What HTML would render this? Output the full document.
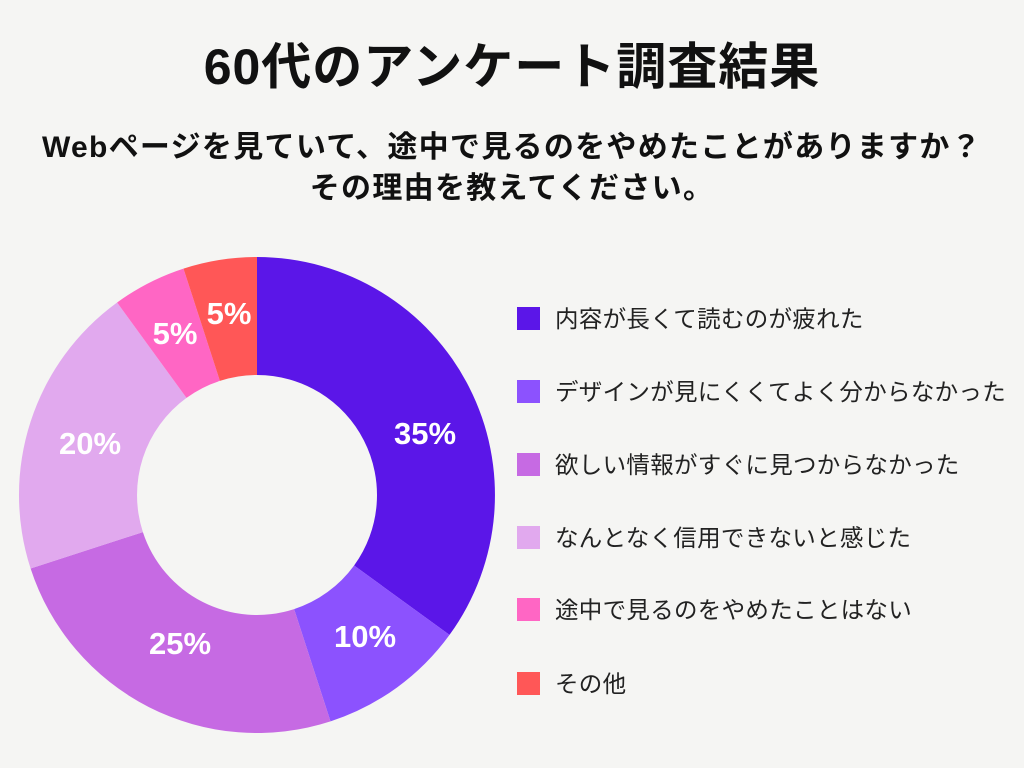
<!DOCTYPE html>
<html><head><meta charset="utf-8"><style>
body{margin:0;width:1024px;height:768px;background:#f5f5f3;overflow:hidden;font-family:"Liberation Sans","Noto Sans CJK JP",sans-serif;color:#111}
.t{position:absolute;left:0;width:1024px;text-align:center;font-weight:bold;white-space:nowrap}
</style></head><body>
<div class="t" style="top:36px;font-size:50px;line-height:62px;letter-spacing:1px">60代のアンケート調査結果</div>
<div class="t" style="top:127px;font-size:30px;line-height:41px;letter-spacing:1.3px">Webページを見ていて、途中で見るのをやめたことがありますか？<br>その理由を教えてください。</div>
<svg width="1024" height="768" style="position:absolute;left:0;top:0">
<g stroke="none">
<path d="M257,257 A238,238 0 0 1 449.5,634.9 L354.1,565.5 A120,120 0 0 0 257,375Z" fill="#5b16e8"/>
<path d="M449.5,634.9 A238,238 0 0 1 330.5,721.4 L294.1,609.1 A120,120 0 0 0 354.1,565.5Z" fill="#8c52fe"/>
<path d="M330.5,721.4 A238,238 0 0 1 30.6,568.5 L142.9,532.1 A120,120 0 0 0 294.1,609.1Z" fill="#c66ae3"/>
<path d="M30.6,568.5 A238,238 0 0 1 117.1,302.5 L186.5,397.9 A120,120 0 0 0 142.9,532.1Z" fill="#e1a9ee"/>
<path d="M117.1,302.5 A238,238 0 0 1 183.5,268.6 L219.9,380.9 A120,120 0 0 0 186.5,397.9Z" fill="#ff66c4"/>
<path d="M183.5,268.6 A238,238 0 0 1 257,257 L257,375 A120,120 0 0 0 219.9,380.9Z" fill="#ff5757"/>
</g>
<g fill="#fff" font-weight="bold" font-size="31" text-anchor="middle" font-family="Liberation Sans, sans-serif">
<text x="425" y="444">35%</text><text x="365" y="647">10%</text><text x="180" y="654">25%</text>
<text x="90" y="454">20%</text><text x="175" y="344">5%</text><text x="229" y="324">5%</text>
</g>
<g font-size="23.5" fill="#222" font-family="Liberation Sans, Noto Sans CJK JP, sans-serif" letter-spacing="0.3">
<rect x="517" y="307" width="23" height="23" fill="#5b16e8"/><text x="555" y="327">内容が長くて読むのが疲れた</text>
<rect x="517" y="380" width="23" height="23" fill="#8c52fe"/><text x="555" y="400">デザインが見にくくてよく分からなかった</text>
<rect x="517" y="453" width="23" height="23" fill="#c66ae3"/><text x="555" y="473">欲しい情報がすぐに見つからなかった</text>
<rect x="517" y="526" width="23" height="23" fill="#e1a9ee"/><text x="555" y="546">なんとなく信用できないと感じた</text>
<rect x="517" y="598" width="23" height="23" fill="#ff66c4"/><text x="555" y="618">途中で見るのをやめたことはない</text>
<rect x="517" y="672" width="23" height="23" fill="#ff5757"/><text x="555" y="692">その他</text>
</g>
</svg>
</body></html>
